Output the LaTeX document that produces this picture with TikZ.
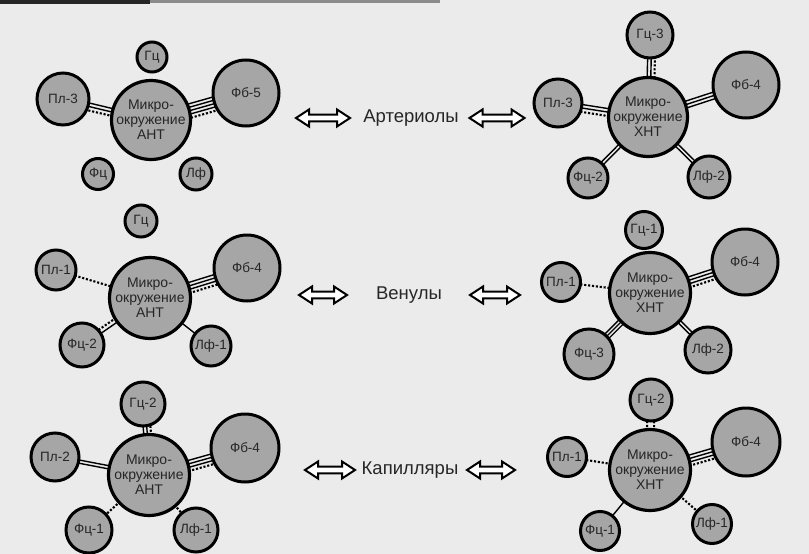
\documentclass[tikz,border=0pt]{standalone}
\usepackage{fontspec}
\setmainfont{Liberation Sans}
\usetikzlibrary{calc}
\pgfdeclarelayer{bg}
\pgfdeclarelayer{links}
\pgfsetlayers{bg,links,main}
\tikzset{
  sat/.style={circle, draw=black, line width=3pt, fill=black!35, minimum size=#1, inner sep=0pt,
    text=black!85, font=\fontsize{13.5}{13.5}\selectfont},
  hub/.style 2 args={circle, draw=black, line width=3.2pt, fill=black!35, minimum size=#1, inner sep=0pt,
    label={[hubtext]center:{Микро-\\окружение\\#2}}},
  hubtext/.style={align=center, inner sep=0pt, text=black!85, font=\fontsize{14}{15}\selectfont},
  bondline/.style={line width=1.4pt, black},
  bonddot/.style={line width=2.1pt, black, dash pattern=on 2.1pt off 1.8pt},
  arrowline/.style={draw=black, fill=white, line width=2pt, line join=miter},
  rowlabel/.style={text=black!85, font=\fontsize{18.5}{18.5}\selectfont, inner sep=0pt},
}
% solid parallel connectors between two nodes
\newcommand\solidlink[3]{%
  \foreach \o in {#3} {\draw[bondline] ($(#1.center)!{\o pt}!90:(#2.center)$) -- ($(#2.center)!{\o pt}!-90:(#1.center)$);}}
\newcommand\dotlink[3]{%
  \foreach \o in {#3} {\draw[bonddot] ($(#1.center)!{\o pt}!90:(#2.center)$) -- ($(#2.center)!{\o pt}!-90:(#1.center)$);}}
% hollow double arrow
\newcommand\dblarrow[4]{% name, x, y, half length
  \coordinate (#1) at (#2,#3);
  \draw[arrowline, shift={(#1)}] (-#4,0) -- ({-#4+13},-8.5) -- ({-#4+13},-3.3) -- ({#4-13},-3.3) -- ({#4-13},-8.5)
     -- (#4,0) -- ({#4-13},8.5) -- ({#4-13},3.3) -- ({-#4+13},3.3) -- ({-#4+13},8.5) -- cycle;}
\begin{document}
\begin{tikzpicture}[x=1pt,y=-1pt]
\begin{pgfonlayer}{bg}
  \fill[black!8] (0,0) rectangle (809,554);
  \fill[black!85] (0,0) rectangle (150,3.5);
  \fill[black!45] (150,0) rectangle (440,2.5);
\end{pgfonlayer}
\useasboundingbox (0,0) rectangle (809,554);

% ---------- cluster 1: arterioles, ANT ----------
\node[hub={79pt}{АНТ}] (c1) at (151,120) {};
\node[sat=30pt] (g1) at (152,57) {Гц};
\node[sat=52pt] (p1) at (63,99) {Пл-3};
\node[sat=66pt] (f1) at (246,93) {Фб-5};
\node[sat=31pt] (fc1) at (98,174) {Фц};
\node[sat=32pt] (l1) at (196,174) {Лф};

% ---------- cluster 2: arterioles, XNT ----------
\node[hub={79pt}{ХНТ}] (c2) at (648,117) {};
\node[sat=46pt] (g2) at (650,35) {Гц-3};
\node[sat=66pt] (f2) at (746,85) {Фб-4};
\node[sat=48pt] (p2) at (558,103) {Пл-3};
\node[sat=40pt] (fc2) at (588,178) {Фц-2};
\node[sat=42pt] (l2) at (709,177) {Лф-2};

% ---------- cluster 3: venules, ANT ----------
\node[hub={81pt}{АНТ}] (c3) at (150,298) {};
\node[sat=32pt] (g3) at (141,221) {Гц};
\node[sat=40pt] (p3) at (56,270) {Пл-1};
\node[sat=66pt] (f3) at (247,268) {Фб-4};
\node[sat=44pt] (fc3) at (82,345) {Фц-2};
\node[sat=40pt] (l3) at (211,346) {Лф-1};

% ---------- cluster 4: venules, XNT ----------
\node[hub={81pt}{ХНТ}] (c4) at (650,293) {};
\node[sat=37pt] (g4) at (644,230) {Гц-1};
\node[sat=66pt] (f4) at (745,262) {Фб-4};
\node[sat=39pt] (p4) at (561,282) {Пл-1};
\node[sat=50pt] (fc4) at (589,354) {Фц-3};
\node[sat=46pt] (l4) at (708,350) {Лф-2};

% ---------- cluster 5: capillaries, ANT ----------
\node[hub={81pt}{АНТ}] (c5) at (149,475) {};
\node[sat=44pt] (g5) at (143,404) {Гц-2};
\node[sat=48pt] (p5) at (55,457) {Пл-2};
\node[sat=68pt] (f5) at (245,448) {Фб-4};
\node[sat=46pt] (fc5) at (89,530) {Фц-1};
\node[sat=44pt] (l5) at (196,530) {Лф-1};

% ---------- cluster 6: capillaries, XNT ----------
\node[hub={81pt}{ХНТ}] (c6) at (650,470) {};
\node[sat=42pt] (g6) at (651,400) {Гц-2};
\node[sat=68pt] (f6) at (746,442) {Фб-4};
\node[sat=39pt] (p6) at (567,457) {Пл-1};
\node[sat=39pt] (fc6) at (600,531) {Фц-1};
\node[sat=39pt] (l6) at (712,524) {Лф-1};

% ---------- connectors ----------
\begin{pgfonlayer}{links}
  % cluster 1
  \solidlink{p1}{c1}{2.2,-1.3}  \dotlink{p1}{c1}{-5.2}
  \solidlink{c1}{f1}{5.2,1.8,-1.6,-5}  \dotlink{c1}{f1}{-8.8}
  % cluster 2
  \solidlink{c2}{g2}{1.8,-1.8}  \dotlink{c2}{g2}{-5.5}
  \solidlink{p2}{c2}{2.2,-1.3}  \dotlink{p2}{c2}{-5.2}
  \solidlink{c2}{f2}{3.4,0,-3.4}
  \solidlink{c2}{fc2}{1.6,-1.6}
  \solidlink{c2}{l2}{1.6,-1.6}
  % cluster 3
  \dotlink{p3}{c3}{0}
  \solidlink{c3}{f3}{3.4,0,-3.4}  \dotlink{c3}{f3}{-7}
  \solidlink{c3}{fc3}{1.2}  \dotlink{c3}{fc3}{-3}
  \solidlink{c3}{l3}{0}
  % cluster 4
  \dotlink{p4}{c4}{0}
  \solidlink{c4}{f4}{3.4,0,-3.4}  \dotlink{c4}{f4}{-7}
  \solidlink{c4}{fc4}{3,0,-3}
  \solidlink{c4}{l4}{1.6,-1.6}
  % cluster 5
  \solidlink{c5}{g5}{1.8,-1.8}  \dotlink{c5}{g5}{-5.5}
  \solidlink{p5}{c5}{1.6,-1.6}
  \solidlink{c5}{f5}{3.4,0,-3.4}  \dotlink{c5}{f5}{-7}
  \dotlink{c5}{fc5}{0}
  \dotlink{c5}{l5}{0}
  % cluster 6
  \dotlink{c6}{g6}{3.5,-3.5}
  \dotlink{p6}{c6}{0}
  \solidlink{c6}{f6}{3.4,0,-3.4}  \dotlink{c6}{f6}{-7}
  \solidlink{c6}{fc6}{0}
  \dotlink{c6}{l6}{0}
\end{pgfonlayer}

% ---------- row labels and double arrows ----------
\node[rowlabel] (t1) at (411,118) {Артериолы};
\node[rowlabel] (t2) at (409,295) {Венулы};
\node[rowlabel] (t3) at (410,470) {Капилляры};
\dblarrow{a1l}{323}{118}{27}
\dblarrow{a1r}{497}{118}{27.5}
\dblarrow{a2l}{323}{295}{24}
\dblarrow{a2r}{495}{295}{25}
\dblarrow{a3l}{330}{470}{25}
\dblarrow{a3r}{491}{470}{24}
\end{tikzpicture}
\end{document}
